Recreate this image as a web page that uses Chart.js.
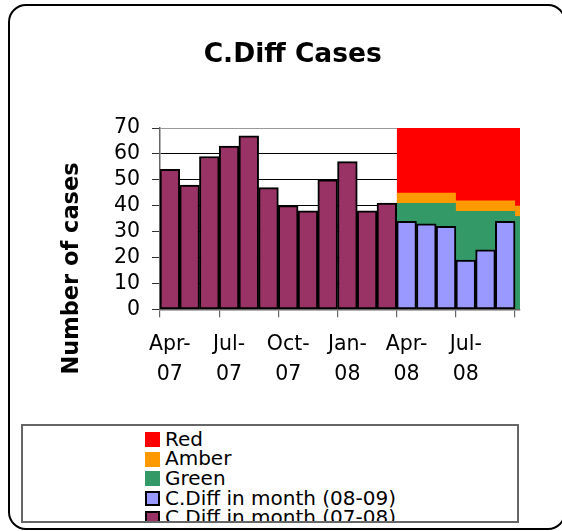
<!DOCTYPE html>
<html>
<head>
<meta charset="utf-8">
<script src="https://cdn.jsdelivr.net/npm/chart.js@4.4.1/dist/chart.umd.min.js"></script>
<style>
    body { margin: 0; background: #fff; }
    #wrap { position: relative; width: 562px; height: 531px; overflow: hidden; }
    #frame {
        position: absolute; left: 8px; top: 4px; width: 558px; height: 526px;
        box-sizing: border-box; border: 2.5px solid #000; border-radius: 18px;
        pointer-events: none;
    }
    #legend {
        position: absolute; left: 21px; top: 424px; width: 498px; height: 99px;
        box-sizing: border-box; border: 2px solid #666; background: #fff;
        overflow: hidden; font-family: "DejaVu Sans", sans-serif; font-size: 20px;
        color: #000;
    }
    #legend ul { list-style: none; margin: 0; padding: 3.6px 0 0 122px; }
    #legend li { height: 19.7px; line-height: 19.7px; white-space: nowrap; position: relative; padding-left: 20px; }
    #legend span.box {
        position: absolute; left: 0; top: 2.4px; width: 15px; height: 15px; box-sizing: border-box;
    }
</style>
</head>
<body>
<div id="wrap">
    <canvas id="myChart" width="562" height="531"></canvas>
    <div id="frame"></div>
    <div id="legend"></div>
</div>
<script>
// months on the category axis (last one only partly shown)
const months = ['Apr-07', 'May-07', 'Jun-07', 'Jul-07', 'Aug-07', 'Sep-07', 'Oct-07', 'Nov-07', 'Dec-07',
    'Jan-08', 'Feb-08', 'Mar-08', 'Apr-08', 'May-08', 'Jun-08', 'Jul-08', 'Aug-08', 'Sep-08', 'Oct-08'];
const tickLabels = ['Apr-07', 'Jul-07', 'Oct-07', 'Jan-08', 'Apr-08', 'Jul-08'];
const tickEdges = ['Apr-07', 'Jul-07', 'Oct-07', 'Jan-08', 'Apr-08', 'Jul-08', 'Oct-08'];

const months0708 = months.slice(0, 12);
const cases0708 = [54, 48, 59, 63, 67, 47, 40, 38, 50, 57, 38, 41];
const months0809 = months.slice(12, 18);
const cases0809 = [34, 33, 32, 19, 23, 34];

// target bands, one value per quarter
const bandStarts = ['Apr-08', 'Jul-08', 'Oct-08'];
const greenLimit = [41, 38, 36];
const amberLimit = [45, 42, 40];
const redLimit = [70, 70, 70];

const xMax = 18.25;
const font = '"DejaVu Sans", sans-serif';

const monthPos = (m) => months.indexOf(m);

const barPoints = (names, values) => names.map((m, i) => ({ x: monthPos(m) + 0.5, y: values[i] }));

const bandPoints = (values) => {
    const pts = bandStarts.map((m, i) => ({ x: monthPos(m), y: values[i] }));
    pts.push({ x: xMax, y: values[values.length - 1] });
    return pts;
};

const band = (label, values, colour, order) => ({
    type: 'line',
    label: label,
    data: bandPoints(values),
    backgroundColor: colour,
    borderWidth: 0,
    pointRadius: 0,
    stepped: 'before',
    fill: 'origin',
    order: order
});

const bars = (label, names, values, colour, order) => ({
    type: 'bar',
    label: label,
    data: barPoints(names, values),
    backgroundColor: colour,
    borderColor: '#000',
    borderWidth: 2,
    borderSkipped: false,
    grouped: false,
    categoryPercentage: 1,
    barPercentage: 1,
    order: order
});

const datasets = [
    band('Red', redLimit, '#ff0000', 4),
    band('Amber', amberLimit, '#ff9900', 3),
    band('Green', greenLimit, '#339966', 2),
    bars('C.Diff in month (08-09)', months0809, cases0809, '#9999ff', 1),
    bars('C.Diff in month (07-08)', months0708, cases0708, '#993366', 0)
];

const textPlugin = {
    id: 'texts',
    afterDraw(chart) {
        const ctx = chart.ctx;
        ctx.save();
        ctx.fillStyle = '#000';
        ctx.textAlign = 'center';
        ctx.textBaseline = 'alphabetic';
        ctx.font = 'bold 26.5px ' + font;
        ctx.fillText('C.Diff Cases', 292.7, 61.7);
        ctx.translate(78, 268.5);
        ctx.rotate(-Math.PI / 2);
        ctx.font = 'bold 22.5px ' + font;
        ctx.fillText('Number of cases', 0, 0);
        ctx.restore();
    }
};

const chartCases = () => {
    const getChart = document.getElementById('myChart');

    new Chart(getChart, {
        data: { datasets: datasets },
        plugins: [textPlugin],
        options: {
            responsive: false,
            animation: false,
            layout: { padding: { left: 0, top: 128, right: 42, bottom: 0 } },
            plugins: {
                legend: { display: false },
                tooltip: { enabled: false },
                title: { display: false }
            },
            scales: {
                x: {
                    type: 'linear',
                    position: 'bottom',
                    offset: false,
                    weight: 1,
                    min: 0,
                    max: xMax,
                    afterBuildTicks: (scale) => {
                        scale.ticks = tickLabels.map(m => ({ value: monthPos(m) + 0.5 }));
                    },
                    afterFit: (scale) => { scale.height = 531 - 309.3 - 8; },
                    grid: { display: false, drawTicks: false, tickLength: 0, offset: false },
                    border: { display: false },
                    ticks: {
                        autoSkip: false,
                        maxRotation: 0,
                        padding: 12,
                        color: '#000',
                        font: { family: font, size: 20.5, lineHeight: 30 / 20.5 },
                        callback: (value, index) => {
                            const t = tickLabels[index].split('-');
                            return [t[0] + '-', t[1]];
                        }
                    }
                },
                x2: {
                    type: 'linear',
                    position: 'bottom',
                    offset: false,
                    weight: 0,
                    min: 0,
                    max: xMax,
                    afterBuildTicks: (scale) => {
                        scale.ticks = tickEdges.map(m => ({ value: monthPos(m) }));
                    },
                    afterFit: (scale) => { scale.height = 8; },
                    grid: { drawOnChartArea: false, tickLength: 8, color: '#666', lineWidth: 1.2, offset: false },
                    border: { color: '#666', width: 1.5 },
                    ticks: { display: false, autoSkip: false }
                },
                y: {
                    min: 0,
                    max: 70,
                    afterFit: (scale) => { scale.width = 160; },
                    grid: {
                        color: (c) => c.tick.value === 70 ? '#999' : '#000',
                        tickColor: '#333',
                        tickLength: 8,
                        lineWidth: 1
                    },
                    border: { color: '#666', width: 1.5 },
                    ticks: {
                        stepSize: 10,
                        autoSkip: false,
                        padding: 12,
                        color: '#000',
                        font: { family: font, size: 20.5 }
                    }
                }
            }
        }
    });

    // legend as a boxed list, in the same order as the original
    const ul = document.createElement('ul');
    datasets.forEach(ds => {
        const li = document.createElement('li');
        const box = document.createElement('span');
        box.className = 'box';
        box.style.background = ds.backgroundColor;
        if (ds.type === 'bar') box.style.border = '2px solid #000';
        li.appendChild(box);
        li.appendChild(document.createTextNode(ds.label));
        ul.appendChild(li);
    });
    document.getElementById('legend').appendChild(ul);
};

chartCases();
</script>
</body>
</html>
